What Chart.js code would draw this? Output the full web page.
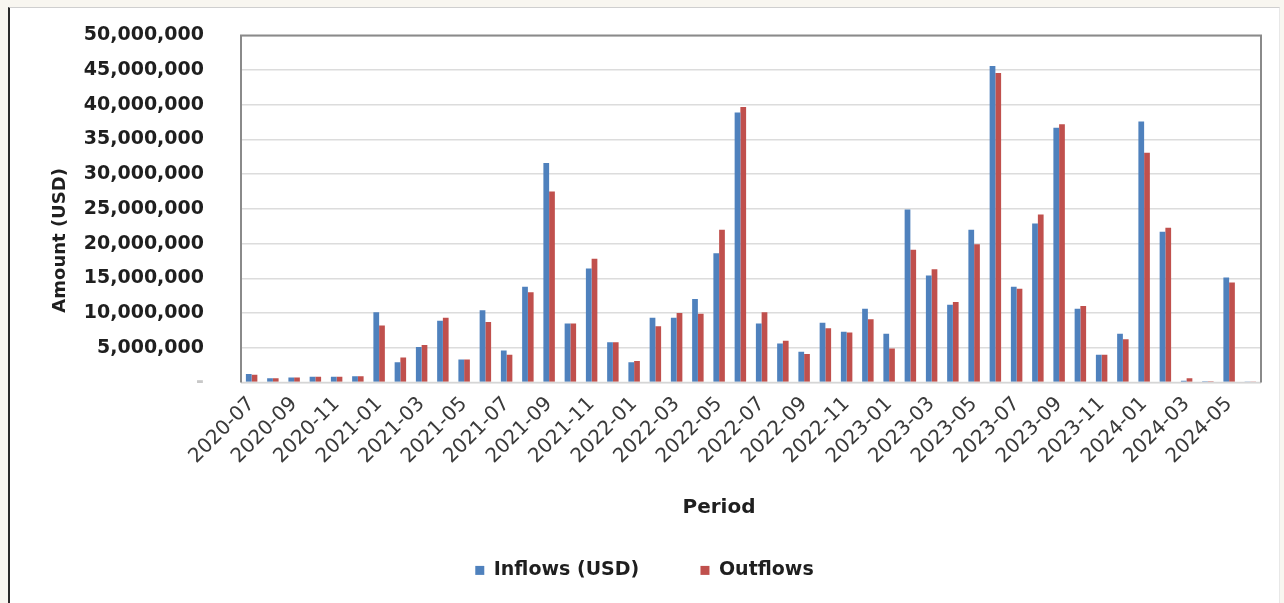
<!DOCTYPE html>
<html>
<head>
<meta charset="utf-8">
<script src="https://cdn.jsdelivr.net/npm/chart.js@4/dist/chart.umd.min.js"></script>
<style>
  html, body { margin: 0; padding: 0; background: #f8f6f0; }
  #frame {
    position: absolute; left: 8px; top: 7px;
    width: 1272px; height: 596px; box-sizing: border-box;
    background: #fff;
    border-left: 2px solid #2a2a2a;
    border-top: 1px solid #cfcfcf;
    border-right: 1px solid #e8e8e8;
  }
  #box { position: absolute; left: 0; top: -21.4px; width: 1269px; height: 616.4px; }
</style>
</head>
<body>
<div id="frame"><div id="box"><canvas id="c"></canvas></div></div>
<script>
const periods = [
  "2020-07","2020-08","2020-09","2020-10","2020-11","2020-12",
  "2021-01","2021-02","2021-03","2021-04","2021-05","2021-06",
  "2021-07","2021-08","2021-09","2021-10","2021-11","2021-12",
  "2022-01","2022-02","2022-03","2022-04","2022-05","2022-06",
  "2022-07","2022-08","2022-09","2022-10","2022-11","2022-12",
  "2023-01","2023-02","2023-03","2023-04","2023-05","2023-06",
  "2023-07","2023-08","2023-09","2023-10","2023-11","2023-12",
  "2024-01","2024-02","2024-03","2024-04","2024-05","2024-06"
];

const inflows = [
  1200000, 600000, 700000, 800000, 800000, 900000,
  10100000, 2900000, 5100000, 8900000, 3300000, 10400000,
  4600000, 13800000, 31600000, 8500000, 16400000, 5800000,
  2900000, 9300000, 9300000, 12000000, 18600000, 38900000,
  8500000, 5600000, 4400000, 8600000, 7300000, 10600000,
  7000000, 24900000, 15400000, 11200000, 22000000, 45600000,
  13800000, 22900000, 36700000, 10600000, 4000000, 7000000,
  37600000, 21700000, 250000, 150000, 15100000, 50000
];

const outflows = [
  1100000, 600000, 700000, 800000, 800000, 900000,
  8200000, 3600000, 5400000, 9300000, 3300000, 8700000,
  4000000, 13000000, 27500000, 8500000, 17800000, 5800000,
  3100000, 8100000, 10000000, 9900000, 22000000, 39700000,
  10100000, 6000000, 4100000, 7800000, 7200000, 9100000,
  4900000, 19100000, 16300000, 11600000, 19900000, 44600000,
  13500000, 24200000, 37200000, 11000000, 4000000, 6200000,
  33100000, 22300000, 600000, 150000, 14400000, 50000
];

const FONT = "'DejaVu Sans', sans-serif";

// plot frame and the two axis titles, placed like the original
const framePlugin = {
  id: "frame",
  afterLayout(chart) {
    // legend sits a little right of the canvas centre in the original
    chart.legend.left += 9;
    chart.legend.right += 9;
  },
  afterDraw(chart) {
    const { ctx, chartArea: a } = chart;
    const ty = a.top - 35; // canvas y of page y 0 (relative to plot top at 35)
    ctx.save();
    ctx.strokeStyle = "#d6d6d6";
    ctx.lineWidth = 1.5;
    ctx.beginPath();
    ctx.moveTo(a.left, a.bottom);
    ctx.lineTo(a.right, a.bottom);
    ctx.stroke();
    ctx.strokeStyle = "#8a8a8a";
    ctx.lineWidth = 2;
    ctx.beginPath();
    ctx.moveTo(a.left, a.bottom);
    ctx.lineTo(a.left, a.top);
    ctx.lineTo(a.right, a.top);
    ctx.lineTo(a.right, a.bottom);
    ctx.stroke();

    ctx.fillStyle = "#1f1f1f";
    ctx.textAlign = "center";
    ctx.textBaseline = "middle";
    ctx.font = "bold 20px " + FONT;
    ctx.fillText("Period", 719 - 10, 507 + ty);

    ctx.translate(50, 240 + ty);
    ctx.rotate(-Math.PI / 2);
    ctx.font = "bold 18px " + FONT;
    ctx.fillText("Amount (USD)", 0, 0);
    ctx.restore();
  }
};

new Chart(document.getElementById("c"), {
  type: "bar",
  data: {
    labels: periods,
    datasets: [
      { label: "Inflows (USD)", data: inflows, backgroundColor: "#4f81bd" },
      { label: "Outflows", data: outflows, backgroundColor: "#c0504d" }
    ]
  },
  options: {
    responsive: true,
    maintainAspectRatio: false,
    animation: false,
    categoryPercentage: 0.54,
    barPercentage: 1.0,
    layout: { padding: { top: 27, right: 18, bottom: 13.5, left: 0 } },
    plugins: {
      tooltip: { enabled: false },
      legend: {
        position: "bottom",
        labels: {
          font: { family: FONT, size: 19, weight: "bold" },
          color: "#1f1f1f",
          boxWidth: 9,
          boxHeight: 9,
          padding: 10,
          generateLabels(chart) {
            const items = Chart.defaults.plugins.legend.labels.generateLabels(chart);
            // wider gap between the two entries
            items[0].text = items[0].text + "\u2003\u2003  ";
            return items;
          }
        }
      }
    },
    scales: {
      x: {
        grid: { display: false },
        border: { display: false },
        ticks: {
          autoSkip: false,
          minRotation: 45,
          maxRotation: 45,
          padding: 2,
          color: "#3a3a3a",
          font: { family: FONT, size: 20 },
          callback(v, i) { return i % 2 === 0 ? periods[i] : ""; }
        },
        afterFit(s) { s.height = 168.5; }
      },
      y: {
        min: 0,
        max: 50000000,
        grid: { color: "#dcdcdc", lineWidth: 1.5, drawTicks: false },
        border: { display: false },
        ticks: {
          stepSize: 5000000,
          padding: 37,
          color: (c) => (c.tick && c.tick.value === 0 ? "#c8c8c8" : "#1f1f1f"),
          font: { family: FONT, size: 19, weight: "bold" },
          callback(v) { return v === 0 ? "-" : v.toLocaleString("en-US"); }
        },
        afterFit(s) { s.width = 231; }
      }
    }
  },
  plugins: [framePlugin]
});
</script>
</body>
</html>
